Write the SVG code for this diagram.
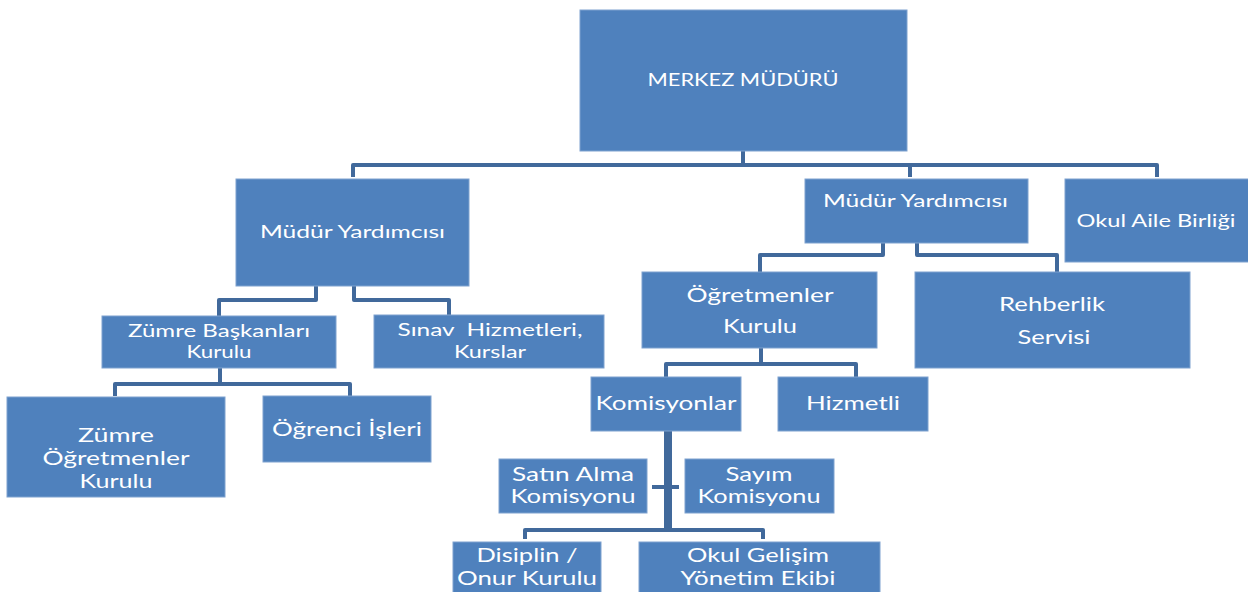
<svg xmlns="http://www.w3.org/2000/svg" width="1248" height="592" viewBox="0 0 1248 592">
<style>
.box{fill:#4F81BD;stroke:#7FA2CF;stroke-width:1}
.t{fill:#FFFFFF;font-family:Lato,"Liberation Sans",sans-serif;text-anchor:middle}
.s{font-size:17px}
.l{font-size:20px}
.c{fill:none;stroke:#41699B;stroke-width:4;stroke-linejoin:round;stroke-linecap:butt}
</style>
<rect width="1248" height="592" fill="#FFFFFF"/>
<g id="connectors">
<path class="c" d="M743,151 V165 M353,177 V165 H1157 V177 M910,165 V177"/>
<path class="c" d="M316,286 V300 H219 V316 M354,286 V300 H449 V315"/>
<path class="c" d="M220,368 V384 M115,396 V384 H350 V396"/>
<path class="c" d="M883,243 V255 H760 V272 M917,243 V255 H1057 V272"/>
<path class="c" d="M761,347 V364 M666,377 V364 H856 V377"/>
<path class="c" d="M668,431 V530" style="stroke-width:8"/>
<path class="c" d="M652,487 H679 M525,539 V530 H763 V539"/>
</g>
<g id="merkez">
<rect class="box" x="580" y="10" width="327" height="141"/>
<text class="t s" x="743" y="86" textLength="191" lengthAdjust="spacingAndGlyphs">MERKEZ MÜDÜRÜ</text>
</g>
<g id="mudur-yard-1">
<rect class="box" x="236" y="179" width="233" height="107"/>
<text class="t s" x="352.5" y="238" textLength="185" lengthAdjust="spacingAndGlyphs">Müdür Yardımcısı</text>
</g>
<g id="mudur-yard-2">
<rect class="box" x="805" y="179" width="223" height="64"/>
<text class="t s" x="915.5" y="207" textLength="185" lengthAdjust="spacingAndGlyphs">Müdür Yardımcısı</text>
</g>
<g id="okul-aile">
<rect class="box" x="1065" y="179" width="190" height="83"/>
<text class="t s" x="1156" y="227" textLength="159" lengthAdjust="spacingAndGlyphs">Okul Aile Birliği</text>
</g>
<g id="zumre-baskanlari">
<rect class="box" x="102" y="316" width="234" height="52"/>
<text class="t s" x="219" y="337" textLength="182" lengthAdjust="spacingAndGlyphs">Zümre Başkanları</text>
<text class="t s" x="219" y="358" textLength="65" lengthAdjust="spacingAndGlyphs">Kurulu</text>
</g>
<g id="sinav">
<rect class="box" x="374" y="315" width="230" height="53"/>
<text class="t s" x="490" y="336" textLength="185" lengthAdjust="spacingAndGlyphs" xml:space="preserve">Sınav  Hizmetleri,</text>
<text class="t s" x="490" y="358" textLength="72" lengthAdjust="spacingAndGlyphs">Kurslar</text>
</g>
<g id="zumre-ogretmenler">
<rect class="box" x="7" y="397" width="218" height="100"/>
<text class="t l" x="116" y="442" textLength="76" lengthAdjust="spacingAndGlyphs">Zümre</text>
<text class="t l" x="116" y="465" textLength="147" lengthAdjust="spacingAndGlyphs">Öğretmenler</text>
<text class="t l" x="116" y="488" textLength="73" lengthAdjust="spacingAndGlyphs">Kurulu</text>
</g>
<g id="ogrenci-isleri">
<rect class="box" x="263" y="396" width="168" height="66"/>
<text class="t l" x="347" y="436" textLength="150" lengthAdjust="spacingAndGlyphs">Öğrenci İşleri</text>
</g>
<g id="ogretmenler-kurulu">
<rect class="box" x="642" y="272" width="235" height="76"/>
<text class="t l" x="760" y="302" textLength="147" lengthAdjust="spacingAndGlyphs">Öğretmenler</text>
<text class="t l" x="760" y="333" textLength="74" lengthAdjust="spacingAndGlyphs">Kurulu</text>
</g>
<g id="rehberlik">
<rect class="box" x="915" y="272" width="275" height="96"/>
<text class="t l" x="1052" y="311" textLength="106" lengthAdjust="spacingAndGlyphs">Rehberlik</text>
<text class="t l" x="1054" y="344" textLength="73" lengthAdjust="spacingAndGlyphs">Servisi</text>
</g>
<g id="komisyonlar">
<rect class="box" x="591" y="377" width="150" height="54"/>
<text class="t l" x="666" y="410" textLength="141" lengthAdjust="spacingAndGlyphs">Komisyonlar</text>
</g>
<g id="hizmetli">
<rect class="box" x="778" y="377" width="150" height="54"/>
<text class="t l" x="853" y="410" textLength="94" lengthAdjust="spacingAndGlyphs">Hizmetli</text>
</g>
<g id="satin-alma">
<rect class="box" x="499" y="459" width="148" height="54"/>
<text class="t l" x="573" y="481" textLength="122" lengthAdjust="spacingAndGlyphs">Satın Alma</text>
<text class="t l" x="573" y="503" textLength="125" lengthAdjust="spacingAndGlyphs">Komisyonu</text>
</g>
<g id="sayim">
<rect class="box" x="685" y="459" width="149" height="54"/>
<text class="t l" x="759" y="481" textLength="67" lengthAdjust="spacingAndGlyphs">Sayım</text>
<text class="t l" x="759" y="503" textLength="123" lengthAdjust="spacingAndGlyphs">Komisyonu</text>
</g>
<g id="disiplin">
<rect class="box" x="453" y="542" width="148" height="55"/>
<text class="t l" x="527" y="562" textLength="101" lengthAdjust="spacingAndGlyphs">Disiplin /</text>
<text class="t l" x="527" y="585" textLength="140" lengthAdjust="spacingAndGlyphs">Onur Kurulu</text>
</g>
<g id="okul-gelisim">
<rect class="box" x="639" y="542" width="241" height="55"/>
<text class="t l" x="758" y="562" textLength="142" lengthAdjust="spacingAndGlyphs">Okul Gelişim</text>
<text class="t l" x="758" y="585" textLength="155" lengthAdjust="spacingAndGlyphs">Yönetim Ekibi</text>
</g>
</svg>
